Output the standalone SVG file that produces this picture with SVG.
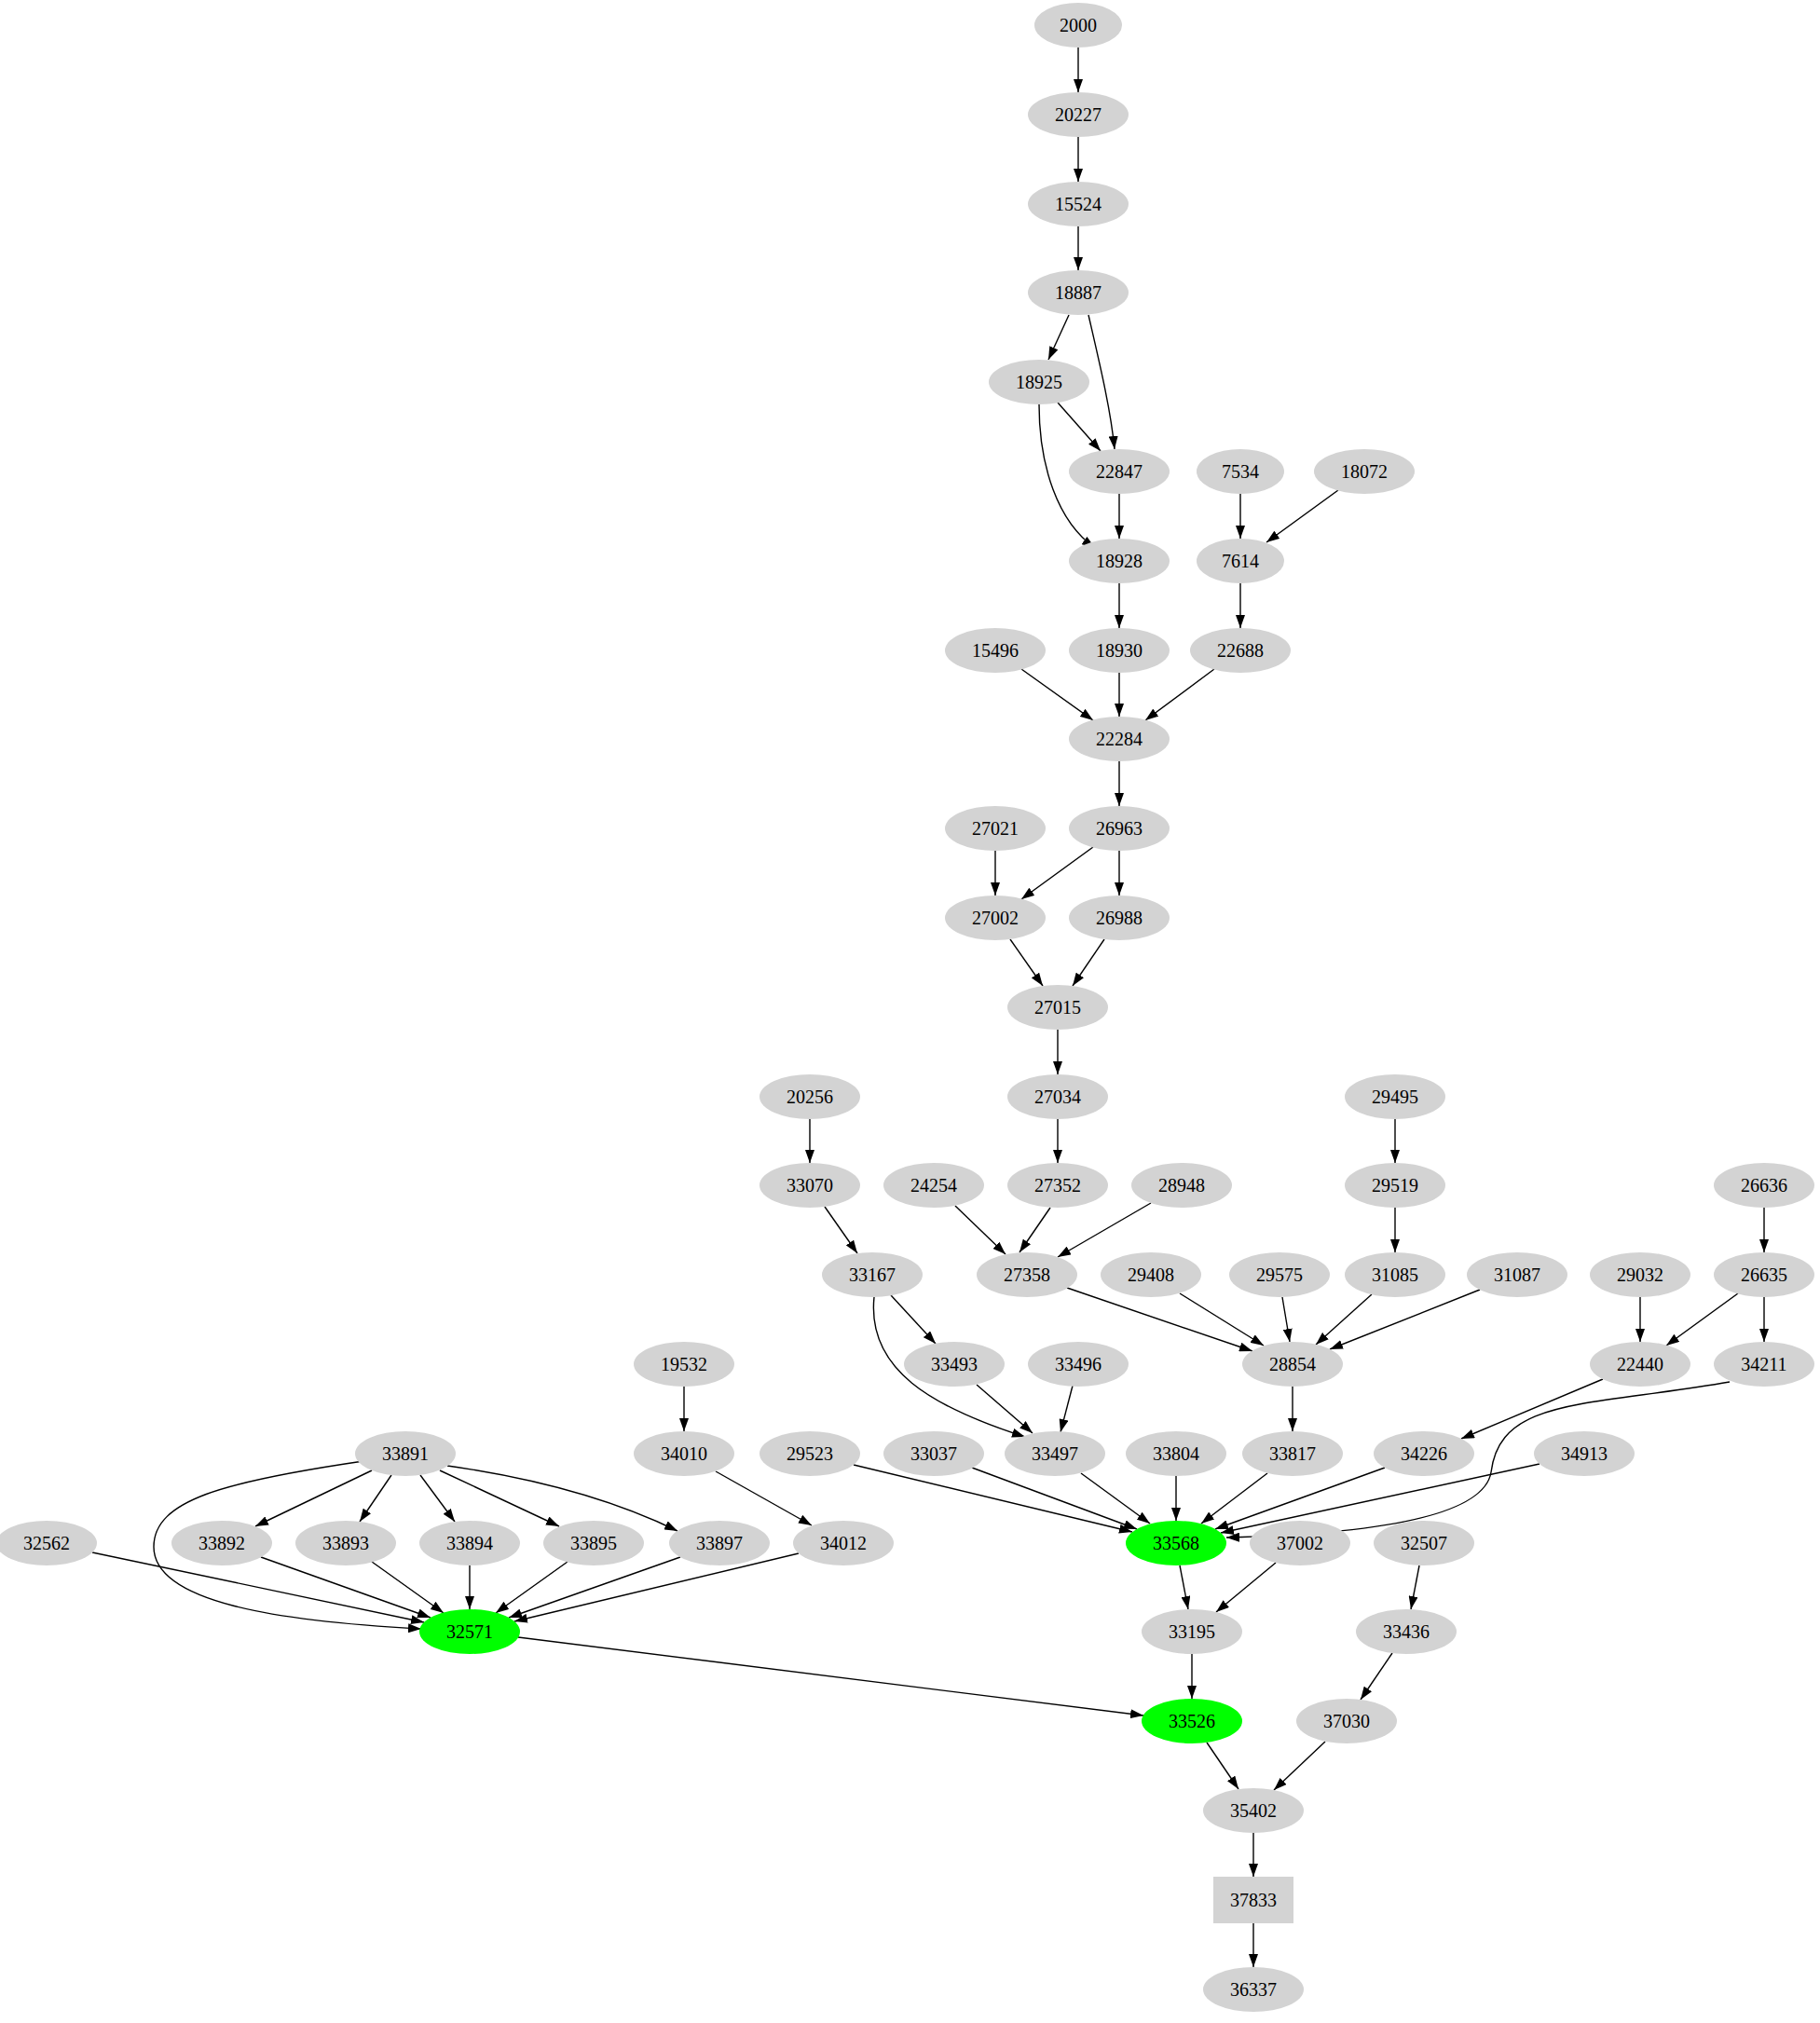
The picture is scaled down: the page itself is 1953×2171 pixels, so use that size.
<svg xmlns="http://www.w3.org/2000/svg" width="1953" height="2171" viewBox="0 0 1953 2171">
<style>
ellipse,rect{fill:#d3d3d3}
.g ellipse{fill:#00ff00}
text{font-family:"Liberation Serif",serif;font-size:20px;text-anchor:middle;fill:#000}
#edges path{fill:none;stroke:#000;stroke-width:1.4;marker-end:url(#a)}
</style>
<defs><marker id="a" markerUnits="userSpaceOnUse" markerWidth="14" markerHeight="10" refX="14" refY="5" orient="auto"><path d="M0,0L14,5L0,10z" fill="#000"/></marker></defs>
<rect width="1953" height="2171" fill="#fff" style="fill:#fff"/>
<g id="edges">
<path d="M1157,51L1157,99"/>
<path d="M1157,147L1157,195"/>
<path d="M1157,243L1157,290"/>
<path d="M1147,338L1125,386"/>
<path d="M1168,338C1180,390 1192,440 1196,482"/>
<path d="M1135,432L1181,484"/>
<path d="M1115,434C1115,500 1135,560 1175,588"/>
<path d="M1201,530L1201,578"/>
<path d="M1331,530L1331,578"/>
<path d="M1436,526L1359,582"/>
<path d="M1201,626L1201,674"/>
<path d="M1331,626L1331,674"/>
<path d="M1096,718L1173,773"/>
<path d="M1201,722L1201,769"/>
<path d="M1303,718L1229,773"/>
<path d="M1201,817L1201,865"/>
<path d="M1068,913L1068,961"/>
<path d="M1173,909L1096,965"/>
<path d="M1201,913L1201,961"/>
<path d="M1084,1008L1119,1058"/>
<path d="M1185,1008L1151,1058"/>
<path d="M1135,1105L1135,1153"/>
<path d="M869,1201L869,1248"/>
<path d="M1135,1201L1135,1248"/>
<path d="M1497,1201L1497,1248"/>
<path d="M1893,1296L1893,1344"/>
<path d="M885,1295L920,1345"/>
<path d="M1025,1294L1079,1346"/>
<path d="M1127,1296L1094,1344"/>
<path d="M1235,1291L1135,1349"/>
<path d="M1497,1296L1497,1344"/>
<path d="M1865,1388L1788,1444"/>
<path d="M1893,1392L1893,1440"/>
<path d="M1760,1392L1760,1440"/>
<path d="M1145,1382L1344,1450"/>
<path d="M1266,1388L1356,1444"/>
<path d="M1376,1392L1384,1440"/>
<path d="M1472,1389L1412,1443"/>
<path d="M1588,1384L1427,1448"/>
<path d="M956,1390L1004,1442"/>
<path d="M938,1392C930,1470 1000,1510 1100,1542"/>
<path d="M734,1488L734,1536"/>
<path d="M1048,1486L1108,1538"/>
<path d="M1151,1487L1138,1537"/>
<path d="M1387,1488L1387,1536"/>
<path d="M1720,1480L1568,1544"/>
<path d="M1856,1483C1700,1510 1610,1500 1600,1580C1590,1640 1400,1648 1316,1650"/>
<path d="M399,1578L274,1638"/>
<path d="M420,1583L386,1633"/>
<path d="M451,1583L488,1633"/>
<path d="M472,1578L600,1638"/>
<path d="M480,1573C600,1590 680,1620 727,1643"/>
<path d="M390,1568C240,1590 165,1610 165,1660C165,1720 300,1740 452,1748"/>
<path d="M99,1666L455,1741"/>
<path d="M768,1579L871,1637"/>
<path d="M916,1572L1215,1644"/>
<path d="M1043,1575L1220,1641"/>
<path d="M1160,1581L1234,1635"/>
<path d="M1262,1584L1262,1632"/>
<path d="M1360,1581L1289,1635"/>
<path d="M1486,1575L1304,1641"/>
<path d="M1652,1571L1310,1645"/>
<path d="M280,1671L462,1736"/>
<path d="M399,1676L476,1731"/>
<path d="M504,1680L504,1727"/>
<path d="M609,1676L532,1731"/>
<path d="M730,1671L546,1736"/>
<path d="M857,1667L552,1740"/>
<path d="M1266,1680L1275,1727"/>
<path d="M1369,1677L1305,1730"/>
<path d="M1523,1680L1514,1727"/>
<path d="M556,1757L1227,1841"/>
<path d="M1279,1775L1279,1823"/>
<path d="M1494,1774L1460,1824"/>
<path d="M1295,1870L1329,1920"/>
<path d="M1422,1869L1367,1921"/>
<path d="M1345,1967L1345,2014"/>
<path d="M1345,2064L1345,2111"/>
</g>
<g id="n2000"><ellipse cx="1157" cy="27" rx="47" ry="24"/><text x="1157" y="34">2000</text></g>
<g id="n20227"><ellipse cx="1157" cy="123" rx="54" ry="24"/><text x="1157" y="130">20227</text></g>
<g id="n15524"><ellipse cx="1157" cy="219" rx="54" ry="24"/><text x="1157" y="226">15524</text></g>
<g id="n18887"><ellipse cx="1157" cy="314" rx="54" ry="24"/><text x="1157" y="321">18887</text></g>
<g id="n18925"><ellipse cx="1115" cy="410" rx="54" ry="24"/><text x="1115" y="417">18925</text></g>
<g id="n22847"><ellipse cx="1201" cy="506" rx="54" ry="24"/><text x="1201" y="513">22847</text></g>
<g id="n7534"><ellipse cx="1331" cy="506" rx="47" ry="24"/><text x="1331" y="513">7534</text></g>
<g id="n18072"><ellipse cx="1464" cy="506" rx="54" ry="24"/><text x="1464" y="513">18072</text></g>
<g id="n18928"><ellipse cx="1201" cy="602" rx="54" ry="24"/><text x="1201" y="609">18928</text></g>
<g id="n7614"><ellipse cx="1331" cy="602" rx="47" ry="24"/><text x="1331" y="609">7614</text></g>
<g id="n15496"><ellipse cx="1068" cy="698" rx="54" ry="24"/><text x="1068" y="705">15496</text></g>
<g id="n18930"><ellipse cx="1201" cy="698" rx="54" ry="24"/><text x="1201" y="705">18930</text></g>
<g id="n22688"><ellipse cx="1331" cy="698" rx="54" ry="24"/><text x="1331" y="705">22688</text></g>
<g id="n22284"><ellipse cx="1201" cy="793" rx="54" ry="24"/><text x="1201" y="800">22284</text></g>
<g id="n27021"><ellipse cx="1068" cy="889" rx="54" ry="24"/><text x="1068" y="896">27021</text></g>
<g id="n26963"><ellipse cx="1201" cy="889" rx="54" ry="24"/><text x="1201" y="896">26963</text></g>
<g id="n27002"><ellipse cx="1068" cy="985" rx="54" ry="24"/><text x="1068" y="992">27002</text></g>
<g id="n26988"><ellipse cx="1201" cy="985" rx="54" ry="24"/><text x="1201" y="992">26988</text></g>
<g id="n27015"><ellipse cx="1135" cy="1081" rx="54" ry="24"/><text x="1135" y="1088">27015</text></g>
<g id="n20256"><ellipse cx="869" cy="1177" rx="54" ry="24"/><text x="869" y="1184">20256</text></g>
<g id="n27034"><ellipse cx="1135" cy="1177" rx="54" ry="24"/><text x="1135" y="1184">27034</text></g>
<g id="n29495"><ellipse cx="1497" cy="1177" rx="54" ry="24"/><text x="1497" y="1184">29495</text></g>
<g id="n33070"><ellipse cx="869" cy="1272" rx="54" ry="24"/><text x="869" y="1279">33070</text></g>
<g id="n24254"><ellipse cx="1002" cy="1272" rx="54" ry="24"/><text x="1002" y="1279">24254</text></g>
<g id="n27352"><ellipse cx="1135" cy="1272" rx="54" ry="24"/><text x="1135" y="1279">27352</text></g>
<g id="n28948"><ellipse cx="1268" cy="1272" rx="54" ry="24"/><text x="1268" y="1279">28948</text></g>
<g id="n29519"><ellipse cx="1497" cy="1272" rx="54" ry="24"/><text x="1497" y="1279">29519</text></g>
<g id="n26636"><ellipse cx="1893" cy="1272" rx="54" ry="24"/><text x="1893" y="1279">26636</text></g>
<g id="n33167"><ellipse cx="936" cy="1368" rx="54" ry="24"/><text x="936" y="1375">33167</text></g>
<g id="n27358"><ellipse cx="1102" cy="1368" rx="54" ry="24"/><text x="1102" y="1375">27358</text></g>
<g id="n29408"><ellipse cx="1235" cy="1368" rx="54" ry="24"/><text x="1235" y="1375">29408</text></g>
<g id="n29575"><ellipse cx="1373" cy="1368" rx="54" ry="24"/><text x="1373" y="1375">29575</text></g>
<g id="n31085"><ellipse cx="1497" cy="1368" rx="54" ry="24"/><text x="1497" y="1375">31085</text></g>
<g id="n31087"><ellipse cx="1628" cy="1368" rx="54" ry="24"/><text x="1628" y="1375">31087</text></g>
<g id="n29032"><ellipse cx="1760" cy="1368" rx="54" ry="24"/><text x="1760" y="1375">29032</text></g>
<g id="n26635"><ellipse cx="1893" cy="1368" rx="54" ry="24"/><text x="1893" y="1375">26635</text></g>
<g id="n19532"><ellipse cx="734" cy="1464" rx="54" ry="24"/><text x="734" y="1471">19532</text></g>
<g id="n33493"><ellipse cx="1024" cy="1464" rx="54" ry="24"/><text x="1024" y="1471">33493</text></g>
<g id="n33496"><ellipse cx="1157" cy="1464" rx="54" ry="24"/><text x="1157" y="1471">33496</text></g>
<g id="n28854"><ellipse cx="1387" cy="1464" rx="54" ry="24"/><text x="1387" y="1471">28854</text></g>
<g id="n22440"><ellipse cx="1760" cy="1464" rx="54" ry="24"/><text x="1760" y="1471">22440</text></g>
<g id="n34211"><ellipse cx="1893" cy="1464" rx="54" ry="24"/><text x="1893" y="1471">34211</text></g>
<g id="n33891"><ellipse cx="435" cy="1560" rx="54" ry="24"/><text x="435" y="1567">33891</text></g>
<g id="n34010"><ellipse cx="734" cy="1560" rx="54" ry="24"/><text x="734" y="1567">34010</text></g>
<g id="n29523"><ellipse cx="869" cy="1560" rx="54" ry="24"/><text x="869" y="1567">29523</text></g>
<g id="n33037"><ellipse cx="1002" cy="1560" rx="54" ry="24"/><text x="1002" y="1567">33037</text></g>
<g id="n33497"><ellipse cx="1132" cy="1560" rx="54" ry="24"/><text x="1132" y="1567">33497</text></g>
<g id="n33804"><ellipse cx="1262" cy="1560" rx="54" ry="24"/><text x="1262" y="1567">33804</text></g>
<g id="n33817"><ellipse cx="1387" cy="1560" rx="54" ry="24"/><text x="1387" y="1567">33817</text></g>
<g id="n34226"><ellipse cx="1528" cy="1560" rx="54" ry="24"/><text x="1528" y="1567">34226</text></g>
<g id="n34913"><ellipse cx="1700" cy="1560" rx="54" ry="24"/><text x="1700" y="1567">34913</text></g>
<g id="n32562"><ellipse cx="50" cy="1656" rx="54" ry="24"/><text x="50" y="1663">32562</text></g>
<g id="n33892"><ellipse cx="238" cy="1656" rx="54" ry="24"/><text x="238" y="1663">33892</text></g>
<g id="n33893"><ellipse cx="371" cy="1656" rx="54" ry="24"/><text x="371" y="1663">33893</text></g>
<g id="n33894"><ellipse cx="504" cy="1656" rx="54" ry="24"/><text x="504" y="1663">33894</text></g>
<g id="n33895"><ellipse cx="637" cy="1656" rx="54" ry="24"/><text x="637" y="1663">33895</text></g>
<g id="n33897"><ellipse cx="772" cy="1656" rx="54" ry="24"/><text x="772" y="1663">33897</text></g>
<g id="n34012"><ellipse cx="905" cy="1656" rx="54" ry="24"/><text x="905" y="1663">34012</text></g>
<g id="n33568" class="g"><ellipse cx="1262" cy="1656" rx="54" ry="24"/><text x="1262" y="1663">33568</text></g>
<g id="n37002"><ellipse cx="1395" cy="1656" rx="54" ry="24"/><text x="1395" y="1663">37002</text></g>
<g id="n32507"><ellipse cx="1528" cy="1656" rx="54" ry="24"/><text x="1528" y="1663">32507</text></g>
<g id="n32571" class="g"><ellipse cx="504" cy="1751" rx="54" ry="24"/><text x="504" y="1758">32571</text></g>
<g id="n33195"><ellipse cx="1279" cy="1751" rx="54" ry="24"/><text x="1279" y="1758">33195</text></g>
<g id="n33436"><ellipse cx="1509" cy="1751" rx="54" ry="24"/><text x="1509" y="1758">33436</text></g>
<g id="n33526" class="g"><ellipse cx="1279" cy="1847" rx="54" ry="24"/><text x="1279" y="1854">33526</text></g>
<g id="n37030"><ellipse cx="1445" cy="1847" rx="54" ry="24"/><text x="1445" y="1854">37030</text></g>
<g id="n35402"><ellipse cx="1345" cy="1943" rx="54" ry="24"/><text x="1345" y="1950">35402</text></g>
<g id="n37833"><rect x="1302" y="2014" width="86" height="50"/><text x="1345" y="2046">37833</text></g>
<g id="n36337"><ellipse cx="1345" cy="2135" rx="54" ry="24"/><text x="1345" y="2142">36337</text></g>
</svg>
